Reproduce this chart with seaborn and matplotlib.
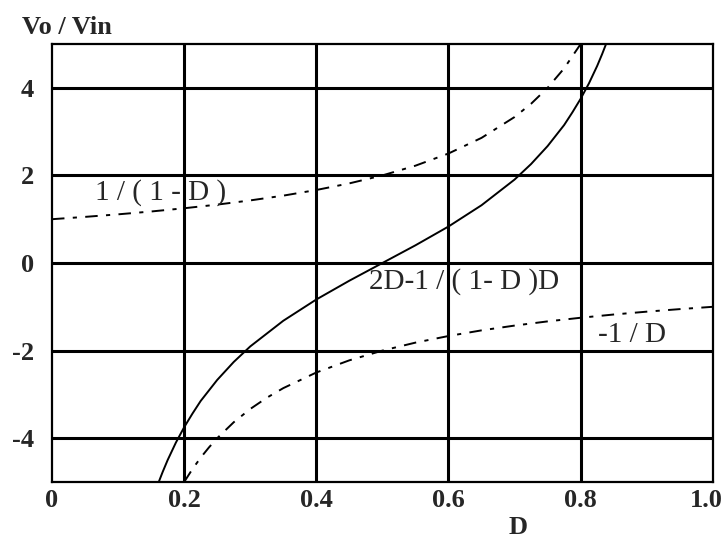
import matplotlib
matplotlib.use("Agg")
import matplotlib.pyplot as plt
import matplotlib.transforms as mtransforms
import seaborn as sns
import pandas as pd

# Boost converter gain 1/(1-D)
d_boost = [0.0, 0.05, 0.1, 0.15, 0.2, 0.25, 0.3, 0.35, 0.4, 0.45, 0.5, 0.55,
           0.6, 0.65, 0.7, 0.725, 0.75, 0.775, 0.8]
v_boost = [1.0, 1.053, 1.111, 1.176, 1.25, 1.333, 1.429, 1.538, 1.667, 1.818,
           2.0, 2.222, 2.5, 2.857, 3.333, 3.636, 4.0, 4.444, 5.0]

# Inverting gain -1/D
d_inv = [0.2, 0.2125, 0.225, 0.2375, 0.25, 0.275, 0.3, 0.325, 0.35, 0.4, 0.45,
         0.5, 0.55, 0.6, 0.65, 0.7, 0.75, 0.8, 0.85, 0.9, 0.95, 1.0]
v_inv = [-5.0, -4.706, -4.444, -4.211, -4.0, -3.636, -3.333, -3.077, -2.857,
         -2.5, -2.222, -2.0, -1.818, -1.667, -1.538, -1.429, -1.333, -1.25,
         -1.176, -1.111, -1.053, -1.0]

# Combined gain (2D-1)/((1-D)D)
d_comb = [0.16, 0.1675, 0.175, 0.1875, 0.2, 0.2125, 0.225, 0.25, 0.275, 0.3,
          0.35, 0.4, 0.45, 0.5, 0.55, 0.6, 0.65, 0.7, 0.725, 0.75, 0.775,
          0.7875, 0.8, 0.8125, 0.825, 0.8325, 0.84]
v_comb = [-5.06, -4.77, -4.50, -4.10, -3.75, -3.44, -3.15, -2.67, -2.26, -1.905,
          -1.319, -0.833, -0.404, 0.0, 0.404, 0.833, 1.319, 1.905, 2.26, 2.67,
          3.15, 3.44, 3.75, 4.10, 4.50, 4.77, 5.06]

x_ticks = [0, 0.2, 0.4, 0.6, 0.8, 1.0]
x_tick_labels = ["0", "0.2", "0.4", "0.6", "0.8", "1.0"]
y_ticks = [-4, -2, 0, 2, 4]
y_tick_labels = ["-4", "-2", "0", "2", "4"]

sns.set_style("white")
plt.rcParams["font.family"] = ["Liberation Serif", "DejaVu Serif"]
plt.rcParams["lines.scale_dashes"] = False

fig = plt.figure(figsize=(7.27, 5.38), dpi=100)
ax = fig.add_axes([0.0715, 0.1041, 0.909, 0.8141])

dashdot = (0, (9, 6, 3, 6))
sns.lineplot(data=pd.DataFrame({"D": d_boost, "V": v_boost}), x="D", y="V",
             ax=ax, color="black", linewidth=1.4, linestyle=dashdot,
             sort=False, estimator=None)
sns.lineplot(data=pd.DataFrame({"D": d_inv, "V": v_inv}), x="D", y="V",
             ax=ax, color="black", linewidth=1.4, linestyle=dashdot,
             sort=False, estimator=None)
sns.lineplot(data=pd.DataFrame({"D": d_comb, "V": v_comb}), x="D", y="V",
             ax=ax, color="black", linewidth=1.4, sort=False, estimator=None)

ax.set_xlim(0, 1.0)
ax.set_ylim(-5, 5)
ax.set_xticks(x_ticks)
ax.set_xticklabels(x_tick_labels, fontsize=19, fontweight="bold")
ax.set_yticks(y_ticks)
ax.set_yticklabels(y_tick_labels, fontsize=19, fontweight="bold")
ax.tick_params(axis="x", length=0, pad=5)
ax.tick_params(axis="y", length=0, pad=13)
ax.set_xlabel("")
ax.set_ylabel("")

# pull the last x tick label slightly inward so it stays on the canvas
last = ax.get_xticklabels()[-1]
last.set_transform(last.get_transform() +
                   mtransforms.ScaledTranslation(-7 / 100, 0, fig.dpi_scale_trans))

for xv in x_ticks[1:-1]:
    ax.axvline(xv, color="black", linewidth=2.2, zorder=1)
for yv in y_ticks:
    ax.axhline(yv, color="black", linewidth=2.2, zorder=1)
for s in ax.spines.values():
    s.set_visible(True)
    s.set_color("black")
    s.set_linewidth(1.6)

ax.text(0.065, 1.6, "1 / ( 1 - D )", fontsize=21, va="center", ha="left")
ax.text(0.479, -0.43, "2D-1 / ( 1- D )D", fontsize=21, va="center", ha="left")
ax.text(0.826, -1.65, "-1 / D", fontsize=21, va="center", ha="left")

fig.text(22 / 727, 1 - 28 / 538, "Vo / Vin", fontsize=19, fontweight="bold",
         va="center", ha="left")
fig.text(518 / 727, 1 - 527 / 538, "D", fontsize=19, fontweight="bold",
         va="center", ha="center")

fig.savefig("out.png", dpi=100)
